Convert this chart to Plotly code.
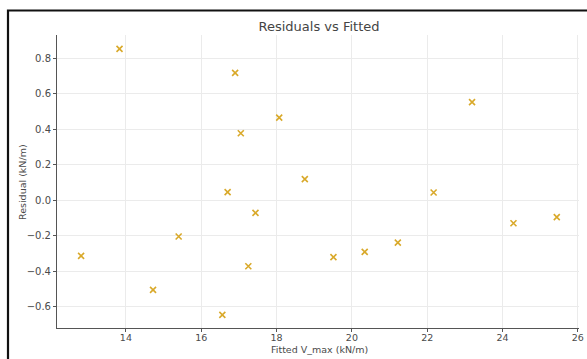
import plotly.graph_objects as go

fitted = [12.81, 13.83, 14.72, 15.40, 16.56, 16.70, 16.90, 17.05, 17.25, 17.44,
          18.07, 18.75, 19.51, 20.34, 21.22, 22.17, 23.19, 24.29, 25.44]
residuals = [-0.314, 0.852, -0.505, -0.205, -0.646, 0.045, 0.717, 0.377, -0.372, -0.072,
             0.465, 0.118, -0.321, -0.291, -0.239, 0.043, 0.552, -0.130, -0.096]
x_ticks = [14, 16, 18, 20, 22, 24, 26]
y_ticks = [-0.6, -0.4, -0.2, 0.0, 0.2, 0.4, 0.6, 0.8]
y_tick_text = ["\u22120.6", "\u22120.4", "\u22120.2", "0.0", "0.2", "0.4", "0.6", "0.8"]

gold = "#d9a92a"
font = "DejaVu Sans"

W, H = 587, 359
L, R, T, B = 57, 8, 35, 31
PW, PH = W - L - R, H - T - B


def px(x):
    return (x - L) / PW


def py(y):
    return (H - B - y) / PH


fig = go.Figure()
fig.add_trace(go.Scatter(
    x=fitted, y=residuals, mode="markers",
    marker=dict(symbol="x-thin", size=6, color=gold, line=dict(color=gold, width=1.6)),
    showlegend=False,
))

fig.add_hline(y=0, line=dict(color="#e3b43a", width=1.6))

fig.update_layout(
    width=W, height=H,
    margin=dict(l=L, r=R, t=T, b=B, autoexpand=False),
    paper_bgcolor="white", plot_bgcolor="white",
    title=dict(text="Residuals vs Fitted", x=319 / W, xanchor="center",
               y=1 - 26 / H, yanchor="middle",
               font=dict(family=font, size=13, color="#444")),
    font=dict(family=font, color="#4a4a4a"),
    xaxis=dict(
        range=[12.17, 26.03], tickvals=x_ticks, ticktext=[str(v) for v in x_ticks],
        showgrid=True, gridcolor="#ebebeb", gridwidth=1,
        showline=True, linecolor="#555", linewidth=1,
        ticks="outside", ticklen=3, tickcolor="#555",
        tickfont=dict(size=9.5, color="#4a4a4a"), ticklabelstandoff=-2,
        zeroline=False, automargin=False,
    ),
    yaxis=dict(
        range=[-0.72, 0.93], tickvals=y_ticks, ticktext=y_tick_text,
        showgrid=True, gridcolor="#ebebeb", gridwidth=1,
        showline=True, linecolor="#555", linewidth=1,
        ticks="outside", ticklen=3, tickcolor="#555",
        tickfont=dict(size=10, color="#4a4a4a"),
        zeroline=False, automargin=False,
    ),
    annotations=[
        dict(text="Fitted V_max (kN/m)", xref="paper", yref="paper",
             x=px(319), y=py(349), xanchor="center", yanchor="middle",
             showarrow=False, font=dict(family=font, size=9.5, color="#4a4a4a")),
        dict(text="Residual (kN/m)", xref="paper", yref="paper",
             x=px(22), y=py(182), xanchor="center", yanchor="middle", textangle=-90,
             showarrow=False, font=dict(family=font, size=9.5, color="#4a4a4a")),
    ],
    shapes=[
        dict(type="rect", xref="paper", yref="paper",
             x0=px(8), x1=px(W + 20), y0=py(10.5), y1=py(H + 20),
             line=dict(color="#111", width=2.2), fillcolor="rgba(0,0,0,0)",
             layer="above"),
    ],
)

fig.write_html("out.html", config={"displayModeBar": False},
               post_script="document.body.style.margin='0';document.body.style.overflow='hidden';")
